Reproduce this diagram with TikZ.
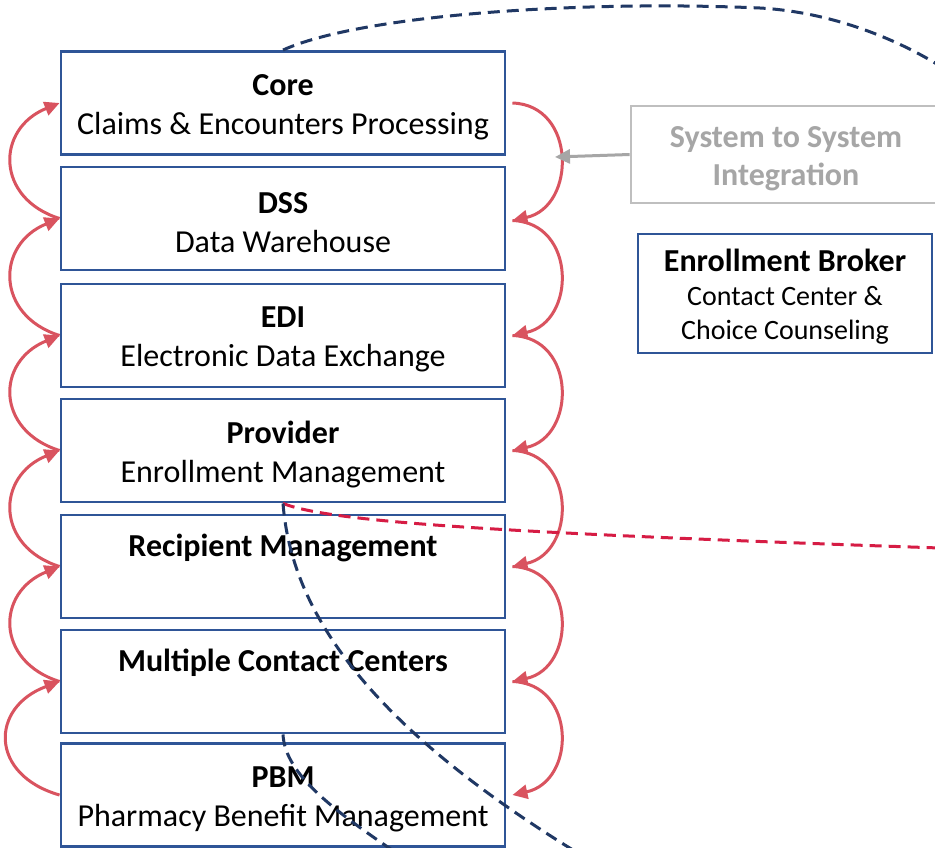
\documentclass[tikz,border=0pt]{standalone}
\usepackage{fontspec}
\setmainfont{Carlito}
\usetikzlibrary{arrows.meta}
\definecolor{boxblue}{RGB}{47,85,151}
\definecolor{arcred}{RGB}{217,83,95}
\definecolor{sysgreyline}{RGB}{191,191,191}
\definecolor{sysgreytext}{RGB}{166,166,166}
\definecolor{navydash}{RGB}{32,56,100}
\definecolor{crimsondash}{RGB}{214,28,68}
\tikzset{
  sysbox/.style={draw=boxblue, line width=2.9pt, fill=white, minimum width=444pt, minimum height=103pt,
    inner sep=0pt},
  boxtext/.style={inner sep=0pt, align=center, font=\fontsize{32}{39}\selectfont},
  greybox/.style={draw=sysgreyline, line width=2.9pt, minimum width=310pt, minimum height=97pt, inner sep=0pt},
  greytext/.style={inner sep=0pt, align=center, text=sysgreytext, font=\bfseries\fontsize{32}{38}\selectfont},
  ebbox/.style={draw=boxblue, line width=2.9pt, minimum width=294pt, minimum height=119pt, inner sep=0pt},
  ebtext/.style={inner sep=0pt, align=center, font=\fontsize{28}{34}\selectfont},
  redarc/.style={draw=arcred, line width=3pt, -{Triangle[length=15pt,width=14pt]}},
  greyarrow/.style={draw=sysgreytext, line width=3pt, -{Triangle[length=15pt,width=14pt]}},
  navyline/.style={draw=navydash, line width=3pt, dash pattern=on 12pt off 7pt},
  redline/.style={draw=crimsondash, line width=3pt, dash pattern=on 12pt off 7pt}
}
\begin{document}
\begin{tikzpicture}[x=1pt,y=-1pt]
\useasboundingbox (0,0) rectangle (935,847);
\fill[white] (0,0) rectangle (935,847);
\clip (0,0) rectangle (935,847);

\node[sysbox] (core)  at (283,103)   {};
\node[sysbox] (dss)   at (283,218.5) {};
\node[sysbox] (edi)   at (283,335.5) {};
\node[sysbox] (prov)  at (283,450.5) {};
\node[sysbox] (recip) at (283,566.5) {};
\node[sysbox] (mcc)   at (283,681.5) {};
\node[sysbox] (pbm)   at (283,795)   {};

\node[boxtext] (coret)  at ([yshift=-4pt]core.center)  {\textbf{Core}\\Claims \& Encounters Processing};
\node[boxtext] (dsst)   at ([yshift=-4pt]dss.center)   {\textbf{DSS}\\Data Warehouse};
\node[boxtext] (edit)   at ([yshift=-4pt]edi.center)   {\textbf{EDI}\\Electronic Data Exchange};
\node[boxtext] (provt)  at ([yshift=-4pt]prov.center)  {\textbf{Provider}\\Enrollment Management};
\node[boxtext] (recipt) at ([yshift=-4pt]recip.center) {\textbf{Recipient Management}\\\strut};
\node[boxtext] (mcct)   at ([yshift=-4pt]mcc.center)   {\textbf{Multiple Contact Centers}\\\strut};
\node[boxtext] (pbmt)   at ([yshift=-4pt]pbm.center)   {\textbf{PBM}\\Pharmacy Benefit Management};

\node[greybox] (sys) at (786,154.5) {};
\node[greytext] (syst) at ([yshift=-4pt]sys.center) {System to System\\Integration};
\node[ebbox] (eb) at (785,293.5) {};
\node[ebtext] (ebt) at ([yshift=-3pt]eb.center) {\textbf{\fontsize{32}{35}\selectfont Enrollment Broker}\\Contact Center \&\\Choice Counseling};

% left arcs (upwards)
\draw[redarc] (dss.west)   .. controls +(-64,-20) and +(-64,26) .. (core.west);
\draw[redarc] (edi.west)   .. controls +(-64,-20) and +(-64,26) .. (dss.west);
\draw[redarc] (prov.west)  .. controls +(-64,-20) and +(-64,26) .. (edi.west);
\draw[redarc] (recip.west) .. controls +(-64,-20) and +(-64,26) .. (prov.west);
\draw[redarc] (mcc.west)   .. controls +(-64,-20) and +(-64,26) .. (recip.west);
\draw[redarc] (pbm.west)   .. controls +(-70,-20) and +(-70,26) .. (mcc.west);

% right arcs (downwards)
\draw[redarc] ([xshift=6pt]core.east)  .. controls +(64,2) and +(64,-14) .. ([xshift=6pt,yshift=-2pt]dss.east);
\draw[redarc] ([xshift=6pt,yshift=-2pt]dss.east)   .. controls +(64,2) and +(64,-14) .. ([xshift=6pt]edi.east);
\draw[redarc] ([xshift=6pt]edi.east)   .. controls +(64,2) and +(64,-14) .. ([xshift=6pt]prov.east);
\draw[redarc] ([xshift=6pt]prov.east)  .. controls +(64,2) and +(64,-14) .. ([xshift=6pt]recip.east);
\draw[redarc] ([xshift=6pt]recip.east) .. controls +(64,2) and +(64,-14) .. ([xshift=6pt]mcc.east);
\draw[redarc] ([xshift=6pt]mcc.east)   .. controls +(64,2) and +(64,-14) .. ([xshift=6pt]pbm.east);

% grey arrow
\coordinate (sysend) at (555,157);
\draw[greyarrow] (sys.west) -- (sysend);

% dashed connectors
\coordinate (topend) at (940,66);
\coordinate (redend) at (940,548);
\coordinate (provend) at (620,878);
\coordinate (mccend) at (410,862);
\draw[navyline] (core.north) .. controls (360,15) and (580,0) .. (760,8) .. controls (830,12) and (895,38) .. (topend);
\draw[redline] (prov.south) .. controls (330,522) and (500,533) .. (redend);
\draw[navyline] (prov.south) .. controls (292,620) and (380,740) .. (provend);
\draw[navyline] (mcc.south) .. controls (285,775) and (335,812) .. (mccend);
\end{tikzpicture}
\end{document}
